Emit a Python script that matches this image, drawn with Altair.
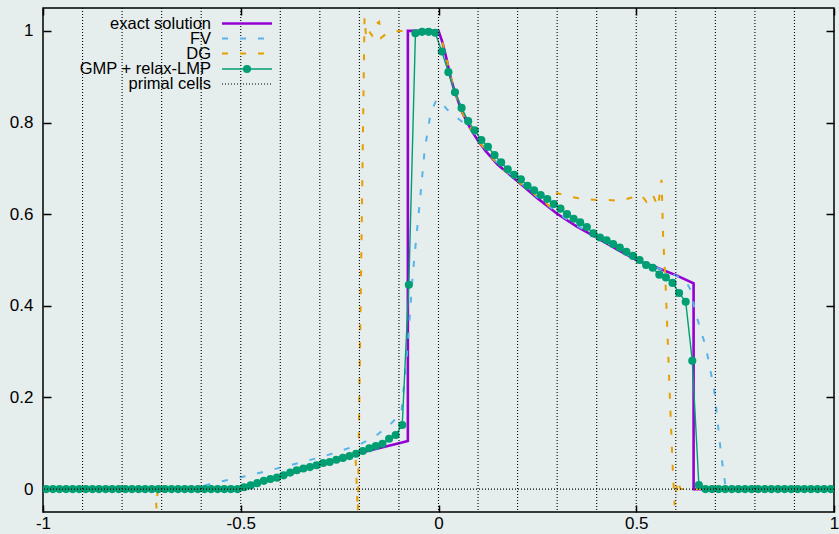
import altair as alt
import pandas as pd

FONT = "Liberation Sans"
BG = "#e6eded"
PURPLE = "#9400d3"
BLUE = "#56b4e9"
ORANGE = "#e69f00"
GREEN = "#009e73"

# ---- exact solution ----
exact_x = [-1.0, -0.5, -0.4, -0.3, -0.2, -0.1, -0.0775, -0.0775, 0.0, 0.01, 0.02, 0.03,
           0.04, 0.06, 0.08, 0.1, 0.12, 0.15, 0.2, 0.25, 0.3, 0.35, 0.4, 0.45, 0.5, 0.55,
           0.6, 0.645, 0.645, 1.0]
exact_y = [0.0, 0.0, 0.027, 0.053, 0.079, 0.100, 0.105, 1.0, 1.0, 0.975, 0.94, 0.90,
           0.87, 0.822, 0.788, 0.76, 0.737, 0.708, 0.672, 0.635, 0.601, 0.573, 0.549, 0.524,
           0.50, 0.484, 0.467, 0.449, 0.0, 0.0]

# ---- finite volume ----
fv_x = [-1.0, -0.62, -0.57, -0.477, -0.376, -0.292, -0.2, -0.157, -0.12, -0.094, -0.08,
        -0.065, -0.048, -0.035, -0.02, -0.005, 0.007, 0.02, 0.04, 0.055, 0.07, 0.085, 0.1,
        0.12, 0.15, 0.2, 0.25, 0.3, 0.35, 0.4, 0.45, 0.5, 0.55, 0.6, 0.625, 0.64, 0.648,
        0.676, 0.697, 0.714, 0.725, 0.73, 1.0]
fv_y = [0.0, 0.0, 0.013, 0.030, 0.052, 0.071, 0.097, 0.117, 0.143, 0.166, 0.29,
        0.47, 0.62, 0.74, 0.82, 0.85, 0.845, 0.83, 0.815, 0.805, 0.795, 0.783, 0.765,
        0.74, 0.71, 0.674, 0.637, 0.603, 0.575, 0.55, 0.525, 0.501, 0.484, 0.466, 0.455,
        0.43, 0.39, 0.31, 0.217, 0.08, 0.01, 0.0, 0.0]

# ---- discontinuous Galerkin ----
dg_x = [-1.0, -0.716, -0.713, -0.71, -0.5, -0.4, -0.3, -0.21, -0.204, -0.187, -0.183,
        -0.176, -0.168, -0.158, -0.15, -0.145, -0.13, -0.115, -0.1, 0.0, 0.01, 0.02, 0.04,
        0.06, 0.08, 0.1, 0.15, 0.2, 0.24, 0.26, 0.28, 0.295, 0.3, 0.33, 0.37, 0.4, 0.43,
        0.46, 0.487, 0.512, 0.526, 0.541, 0.555, 0.56, 0.564, 0.568, 0.575, 0.585, 0.592,
        0.597, 0.604, 0.612, 1.0]
dg_y = [0.0, 0.0, -0.042, 0.0, 0.0, 0.027, 0.053, 0.077, -0.05, 1.03, 0.985,
        1.0, 0.99, 1.015, 1.02, 0.985, 0.995, 0.998, 1.0, 1.0, 0.975, 0.94, 0.87,
        0.822, 0.788, 0.76, 0.708, 0.672, 0.645, 0.632, 0.618, 0.64, 0.646, 0.638, 0.633,
        0.631, 0.631, 0.629, 0.636, 0.642, 0.627, 0.644, 0.616, 0.649, 0.675, 0.55, 0.43,
        0.2, 0.05, -0.035, 0.02, 0.0, 0.0]

# ---- GMP + relax-LMP, one value per subcell (20 primal cells x 6 subcells) ----
n_primal = 20
n_sub = 6
gmp_y = [
    0.0, 0.0, 0.0, 0.0, 0.0, 0.0, 0.0, 0.0, 0.0, 0.0,
    0.0, 0.0, 0.0, 0.0, 0.0, 0.0, 0.0, 0.0, 0.0, 0.0,
    0.0, 0.0, 0.0, 0.0, 0.0, 0.0, 0.0, 0.0, 0.0, 0.0,
    0.004, 0.008, 0.013, 0.018, 0.022, 0.025, 0.030, 0.036, 0.041, 0.045,
    0.048, 0.052, 0.057, 0.059, 0.064, 0.068, 0.072, 0.077, 0.083, 0.089,
    0.094, 0.099, 0.110, 0.118, 0.140, 0.446, 0.995, 0.998, 0.998, 0.996,
    0.955, 0.910, 0.866, 0.832, 0.803, 0.783, 0.762, 0.747, 0.729, 0.713,
    0.698, 0.686, 0.676, 0.662, 0.652, 0.642, 0.633, 0.622, 0.612, 0.600,
    0.590, 0.582, 0.572, 0.558, 0.549, 0.543, 0.535, 0.527, 0.518, 0.509,
    0.500, 0.489, 0.483, 0.468, 0.462, 0.450, 0.428, 0.409, 0.280, 0.009,
    0.0, 0.0, 0.0, 0.0, 0.0, 0.0, 0.0, 0.0, 0.0, 0.0,
    0.0, 0.0, 0.0, 0.0, 0.0, 0.0, 0.0, 0.0, 0.0, 0.0,
]
n_cells = n_primal * n_sub
gmp_x = [-1.0 + (2 * k + 1) / n_cells for k in range(n_cells)]

# primal cell interfaces
primal_edges = [-0.9, -0.8, -0.7, -0.6, -0.5, -0.4, -0.3, -0.2, -0.1, 0.0,
                0.1, 0.2, 0.3, 0.4, 0.5, 0.6, 0.7, 0.8, 0.9]

x_ticks = [-1, -0.5, 0, 0.5, 1]
y_ticks = [0, 0.2, 0.4, 0.6, 0.8, 1]

legend_labels = ["exact solution", "FV", "DG", "GMP + relax-LMP", "primal cells"]

W, H = 791, 504

x_scale = alt.Scale(domain=[-1, 1], nice=False, zero=False)
y_scale = alt.Scale(domain=[-0.05, 1.05], nice=False, zero=False)


def table(xs, ys):
    return pd.DataFrame({"x": xs, "y": ys, "i": list(range(len(xs)))})


def series_line(df, color, width, dash=None):
    kw = dict(color=color, strokeWidth=width, clip=True)
    if dash is not None:
        kw["strokeDash"] = dash
    return alt.Chart(df).mark_line(**kw).encode(
        x=alt.X("x:Q", scale=x_scale, axis=None),
        y=alt.Y("y:Q", scale=y_scale, axis=None),
        order="i:Q",
    )


tick_style = dict(tickColor="black", tickWidth=1.5, domain=False, grid=False, title=None,
                  labelFont=FONT, labelFontSize=17, labelColor="black",
                  labelExpr="'' + datum.value", labelOverlap=False, labelBound=False,
                  labelFlush=False)

axes_main = alt.Chart(pd.DataFrame({"x": x_ticks[:1], "y": y_ticks[:1]})).mark_point(opacity=0).encode(
    x=alt.X("x:Q", scale=x_scale,
            axis=alt.Axis(orient="bottom", values=x_ticks, offset=-7, tickSize=7,
                          labelPadding=3, **tick_style)),
    y=alt.Y("y:Q", scale=y_scale,
            axis=alt.Axis(orient="left", values=y_ticks, offset=-8, tickSize=8,
                          labelPadding=10, **tick_style)),
)
axes_mirror = alt.Chart(pd.DataFrame({"x": x_ticks[:1], "y": y_ticks[:1]})).mark_point(opacity=0).encode(
    x=alt.X("x:Q", scale=x_scale,
            axis=alt.Axis(orient="top", values=x_ticks, offset=-7, tickSize=7,
                          labels=False, tickColor="black", tickWidth=1.5, domain=False,
                          grid=False, title=None)),
    y=alt.Y("y:Q", scale=y_scale,
            axis=alt.Axis(orient="right", values=y_ticks, offset=-8, tickSize=8,
                          labels=False, tickColor="black", tickWidth=1.5, domain=False,
                          grid=False, title=None)),
)

exact = series_line(table(exact_x, exact_y), PURPLE, 2.6)
fv = series_line(table(fv_x, fv_y), BLUE, 2, [6, 12])
dg = series_line(table(dg_x, dg_y), ORANGE, 2, [6, 12])

DOT_SIZE = 66
gmp_df = table(gmp_x, gmp_y)
gmp_line = series_line(gmp_df, GREEN, 1.4)
gmp_pts = alt.Chart(gmp_df).mark_circle(size=DOT_SIZE, color=GREEN, opacity=1, clip=True).encode(
    x=alt.X("x:Q", scale=x_scale, axis=None),
    y=alt.Y("y:Q", scale=y_scale, axis=None),
)

DOT = [1, 2]
cells_v = alt.Chart(pd.DataFrame({"x": primal_edges})).mark_rule(
    color="black", strokeWidth=1.1, strokeDash=DOT).encode(
    x=alt.X("x:Q", scale=x_scale, axis=None))
cells_h = alt.Chart(pd.DataFrame({"y": [0.0]})).mark_rule(
    color="black", strokeWidth=1.1, strokeDash=DOT).encode(
    y=alt.Y("y:Q", scale=y_scale, axis=None))

# key drawn in the upper-left corner: label on the left, sample on the right
key_text_x = 168
key_x0, key_x1 = 179, 229
key_rows = [15.5, 30.5, 45.5, 61.0, 76.0]
key_layers = []
for label, row in zip(legend_labels, key_rows):
    d = pd.DataFrame({"label": [label]})
    key_layers.append(alt.Chart(d).mark_text(
        align="right", baseline="middle", font=FONT, fontSize=16.5, color="black").encode(
        x=alt.value(key_text_x), y=alt.value(row), text="label:N"))

sample = lambda **kw: alt.Chart(pd.DataFrame({"label": ["s"]})).mark_rule(**kw)
key_layers.append(sample(color=PURPLE, strokeWidth=2.6).encode(
    x=alt.value(key_x0), x2=alt.value(key_x1), y=alt.value(key_rows[0])))
key_layers.append(sample(color=BLUE, strokeWidth=2, strokeDash=[6, 12]).encode(
    x=alt.value(key_x0), x2=alt.value(key_x1), y=alt.value(key_rows[1])))
key_layers.append(sample(color=ORANGE, strokeWidth=2, strokeDash=[6, 12]).encode(
    x=alt.value(key_x0), x2=alt.value(key_x1), y=alt.value(key_rows[2])))
key_layers.append(sample(color=GREEN, strokeWidth=1.4).encode(
    x=alt.value(key_x0), x2=alt.value(key_x1), y=alt.value(key_rows[3])))
key_layers.append(alt.Chart(pd.DataFrame({"label": ["s"]})).mark_circle(
    size=DOT_SIZE, color=GREEN, opacity=1).encode(
    x=alt.value((key_x0 + key_x1) / 2), y=alt.value(key_rows[3])))
key_layers.append(sample(color="black", strokeWidth=1.1, strokeDash=DOT).encode(
    x=alt.value(key_x0), x2=alt.value(key_x1), y=alt.value(key_rows[4])))

chart = alt.layer(
    axes_main, axes_mirror, exact, fv, dg, gmp_line, gmp_pts, cells_v, cells_h, *key_layers
).resolve_axis(x="independent", y="independent").properties(
    width=W, height=H, autosize="none",
    padding={"left": 43, "top": 8, "right": 5, "bottom": 22},
    background=BG,
).configure_view(stroke="black", strokeWidth=1.5, fill=BG)

chart.save("out.html", embed_options={"renderer": "svg", "actions": False})
